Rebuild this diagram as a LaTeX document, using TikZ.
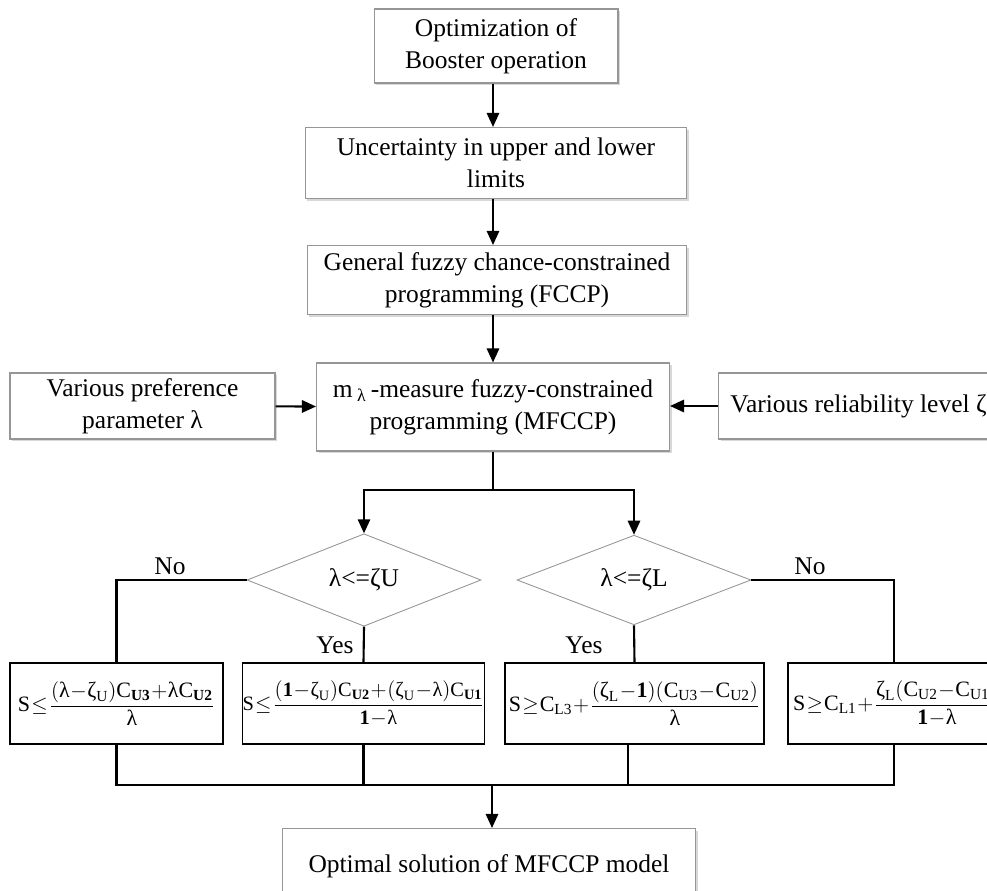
\documentclass[tikz,border=0pt]{standalone}
\usepackage{amsmath}
\usepackage{fontspec}
\setmainfont{Liberation Serif}
\usepackage{tikz}
\usetikzlibrary{shapes.geometric,arrows.meta,shadows}
\definecolor{boxgray}{RGB}{150, 150, 150}
\definecolor{shadowgray}{RGB}{200, 200, 200}
\newcommand{\lmb}{\text{λ}}
\newcommand{\zt}{\text{ζ}}
\newcommand{\tightmath}{\fontsize{12.5}{15}\selectfont\medmuskip=0.5mu\thickmuskip=1mu\thinmuskip=0mu}

\tikzset{
    stagebox/.style={draw=boxgray, line width=0.6pt, fill=white, align=center,
        drop shadow={shadow xshift=1.2pt, shadow yshift=-1.2pt, fill=shadowgray, opacity=0.7},
        inner sep=2pt},
    formbox/.style={draw=black, line width=0.9pt, fill=white, inner sep=0pt,
        minimum height=1.62cm, font=\tightmath},
    decision/.style={diamond, draw=boxgray, line width=0.5pt, inner sep=0pt,
        minimum width=4.68cm, minimum height=1.62cm},
    flow/.style={line width=1.2pt},
    flowarrow/.style={line width=1.2pt, -{Triangle[length=8pt,width=7pt]}},
    tag/.style={inner sep=0pt}
}

\begin{document}
\begin{tikzpicture}[x=0.02cm, y=-0.02cm, font=\fontsize{14.5}{18}\selectfont]
    \useasboundingbox (0,0) rectangle (987,890);

    \node[stagebox, minimum width=4.88cm, minimum height=1.48cm] (opt) at (496,46) {Optimization of\\Booster operation};
    \node[stagebox, minimum width=7.64cm, minimum height=1.42cm] (unc) at (496,163) {Uncertainty in upper and lower\\limits};
    \node[stagebox, minimum width=7.6cm, minimum height=1.38cm] (fccp) at (497,280) {General fuzzy chance-constrained\\programming (FCCP)};
    \node[stagebox, minimum width=7.06cm, minimum height=1.76cm] (mfccp) at (493,407) {m\,\textsubscript{λ}\,-measure fuzzy-constrained\\programming (MFCCP)};
    \node[stagebox, minimum width=5.3cm, minimum height=1.32cm] (pref) at (142.5,406) {Various preference\\parameter λ};
    \node[stagebox, minimum width=5.6cm, minimum height=1.32cm, anchor=west] (rel) at (718,406) {Various reliability level ζ};

    \node[decision] (dU) at (364,580) {λ<=ζU};
    \node[decision] (dL) at (634,580) {λ<=ζL};

    \node[formbox, minimum width=4.26cm] (fA) at (116.5,703.5)
        {$\mathrm{S}\le\dfrac{(\lmb-\zt_{\mathrm{U}})\mathrm{C}_{\mathbf{U3}}+\lmb\mathrm{C}_{\mathbf{U2}}}{\lmb}$};
    \node[formbox, minimum width=4.7cm, font=\tightmath\fontsize{11.6}{14}\selectfont] (fB) at (363.5,703.5)
        {$\mathrm{S}\le\dfrac{(\mathbf{1}-\zt_{\mathrm{U}})\mathrm{C}_{\mathbf{U2}}+(\zt_{\mathrm{U}}-\lmb)\mathrm{C}_{\mathbf{U1}}}{\mathbf{1}-\lmb}$};
    \node[formbox, minimum width=5.18cm] (fC) at (634.5,703.5)
        {$\mathrm{S}\ge\mathrm{C}_{\mathrm{L\,3}}+\dfrac{(\zt_{\mathrm{L}}-\mathbf{1})(\mathrm{C}_{\mathrm{U3}}-\mathrm{C}_{\mathrm{U2}})}{\lmb}$};
    \node[formbox, minimum width=4.28cm, anchor=west] (fD) at (787,703.5)
        {\hspace*{2pt}$\mathrm{S}\ge\mathrm{C}_{\mathrm{L1}}+\dfrac{\zt_{\mathrm{L}}(\mathrm{C}_{\mathrm{U2}}-\mathrm{C}_{\mathrm{U1}})}{\mathbf{1}-\lmb}$};

    \node[stagebox, minimum width=8.28cm, minimum height=1.5cm, anchor=north] (res) at (489,828) {Optimal solution of MFCCP model};

    \node[tag] (noU) at (170,566) {No};
    \node[tag] (noL) at (810,566) {No};
    \node[tag] (yesU) at (335,645) {Yes};
    \node[tag] (yesL) at (584,645) {Yes};

    \coordinate (split) at (493,490);
    \coordinate (merge) at (492,785);
    \coordinate (dtop) at (894,663);

    \draw[flowarrow] (mfccp.north |- opt.south) -- (mfccp.north |- unc.north);
    \draw[flowarrow] (mfccp.north |- unc.south) -- (mfccp.north |- fccp.north);
    \draw[flowarrow] (mfccp.north |- fccp.south) -- (mfccp.north);
    \draw[flowarrow] (pref) -- (mfccp);
    \draw[flowarrow] (rel.west) -- (mfccp.east |- rel.west);
    \draw[flow] (mfccp.south) -- (split);
    \draw[flowarrow] (split) -| (dU.north);
    \draw[flowarrow] (split) -| (dL.north);

    \draw[flow] (dU.west) -| (fA.north);
    \draw[flow] (dU.south) -- (fB.north);
    \draw[flow] (dL.south) -- (fC.north);
    \draw[flow] (dL.east) -| (dtop);

    \draw[flow] (fA.south) -- (fA.south |- merge) -- (894,785) -- (894,744);
    \draw[flow] (fB.south) -- (fB.south |- merge);
    \draw[flow] (628,744) -- (628,785);
    \draw[flowarrow] (merge) -- (merge |- res.north);
\end{tikzpicture}
\end{document}
